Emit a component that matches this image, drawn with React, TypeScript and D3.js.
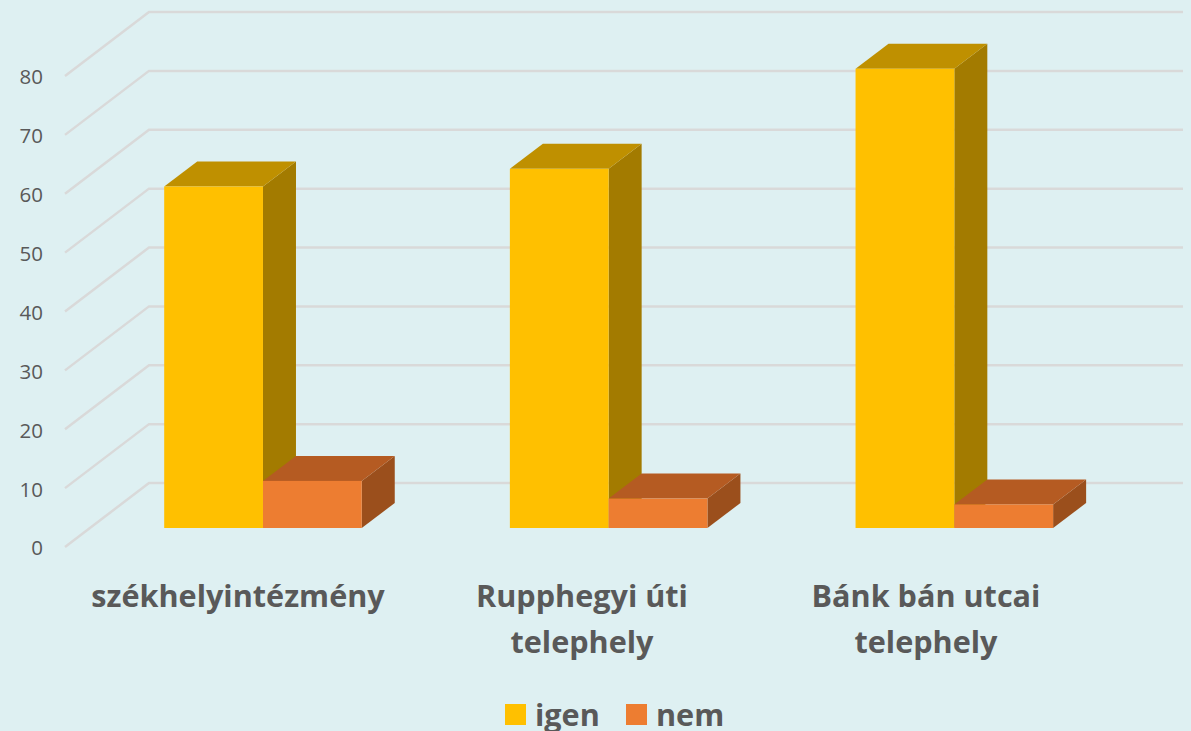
import React from "react";
import * as d3 from "d3";

const categories = [["székhelyintézmény"], ["Rupphegyi úti", "telephely"], ["Bánk bán utcai", "telephely"]];
const seriesNames = ["igen", "nem"];
const igen = [58, 61, 78];
const nem = [8, 5, 4];
const ticks = [0, 10, 20, 30, 40, 50, 60, 70, 80];
const faceColors = ["#FFC000", "#ED7D31"];
const topColors = ["#BF9000", "#B55B22"];
const sideColors = ["#A37B00", "#9B4F1C"];
const background = "#DEF0F2";
const textColor = "#595959";
const gridColor = "#D9D9D9";

const W = 1191, H = 731;
const plane = { left: 65, right: 1099, depthX: 84, depthY: 64 };
const y = d3.scaleLinear().domain([0, 80]).range([547, 76]);
const x0 = d3.scaleBand<number>().domain([0, 1, 2]).range([66, 1098]);
const x1 = d3.scaleBand<number>().domain([0, 1, 2]).range([90.4, 1126.9]).paddingInner(0.4285).paddingOuter(0.2135);
const xs = d3.scaleBand<number>().domain([0, 1]).range([0, x1.bandwidth()]);
const barLift = 19;
const barD = { x: 33, y: 25 };
const FONT = "'Open Sans', sans-serif";

const poly = (p: [number, number][]) => d3.line()(p)! + "Z";

export default function App() {
  const series = [igen, nem];
  return (
    <svg width={W} height={H} style={{ position: "absolute", left: 0, top: 0, display: "block" }} fontFamily={FONT}>
      <rect width={W} height={H} fill={background} />
      {ticks.map((t) => (
        <g key={t}>
          <path
            d={d3.line()([[plane.left, y(t)], [plane.left + plane.depthX, y(t) - plane.depthY], [plane.right + plane.depthX, y(t) - plane.depthY]])!}
            fill="none" stroke={gridColor} strokeWidth={2.5}
          />
          <text x={43} y={y(t) + 1} dy="0.36em" textAnchor="end" fontSize={20.5} fill={textColor}>{t}</text>
        </g>
      ))}
      {categories.map((c, i) =>
        series.map((s, k) => {
          const xl = x1(i)! + xs(k)!;
          const xr = xl + xs.bandwidth();
          const base = y(0) - barLift;
          const top = base - (y(0) - y(s[i]));
          return (
            <g key={`${i}-${k}`}>
              <path d={poly([[xr, base], [xr + barD.x, base - barD.y], [xr + barD.x, top - barD.y], [xr, top]])} fill={sideColors[k]} />
              <path d={poly([[xl, top], [xr, top], [xr + barD.x, top - barD.y], [xl + barD.x, top - barD.y]])} fill={topColors[k]} />
              <rect x={xl} y={top} width={xs.bandwidth()} height={base - top} fill={faceColors[k]} />
            </g>
          );
        })
      )}
      {categories.map((c, i) => (
        <text key={i} textAnchor="middle" fontSize={30.6} fontWeight={700} fill={textColor}>
          {c.map((line, j) => (
            <tspan key={j} x={x0(i)! + x0.bandwidth() / 2} y={607 + j * 46}>{line}</tspan>
          ))}
        </text>
      ))}
      {seriesNames.map((n, k) => {
        const lx = [505, 626][k];
        return (
          <g key={n}>
            <rect x={lx} y={704} width={21} height={21} fill={faceColors[k]} />
            <text x={lx + 30} y={726} fontSize={30.6} fontWeight={700} fill={textColor}>{n}</text>
          </g>
        );
      })}
    </svg>
  );
}
